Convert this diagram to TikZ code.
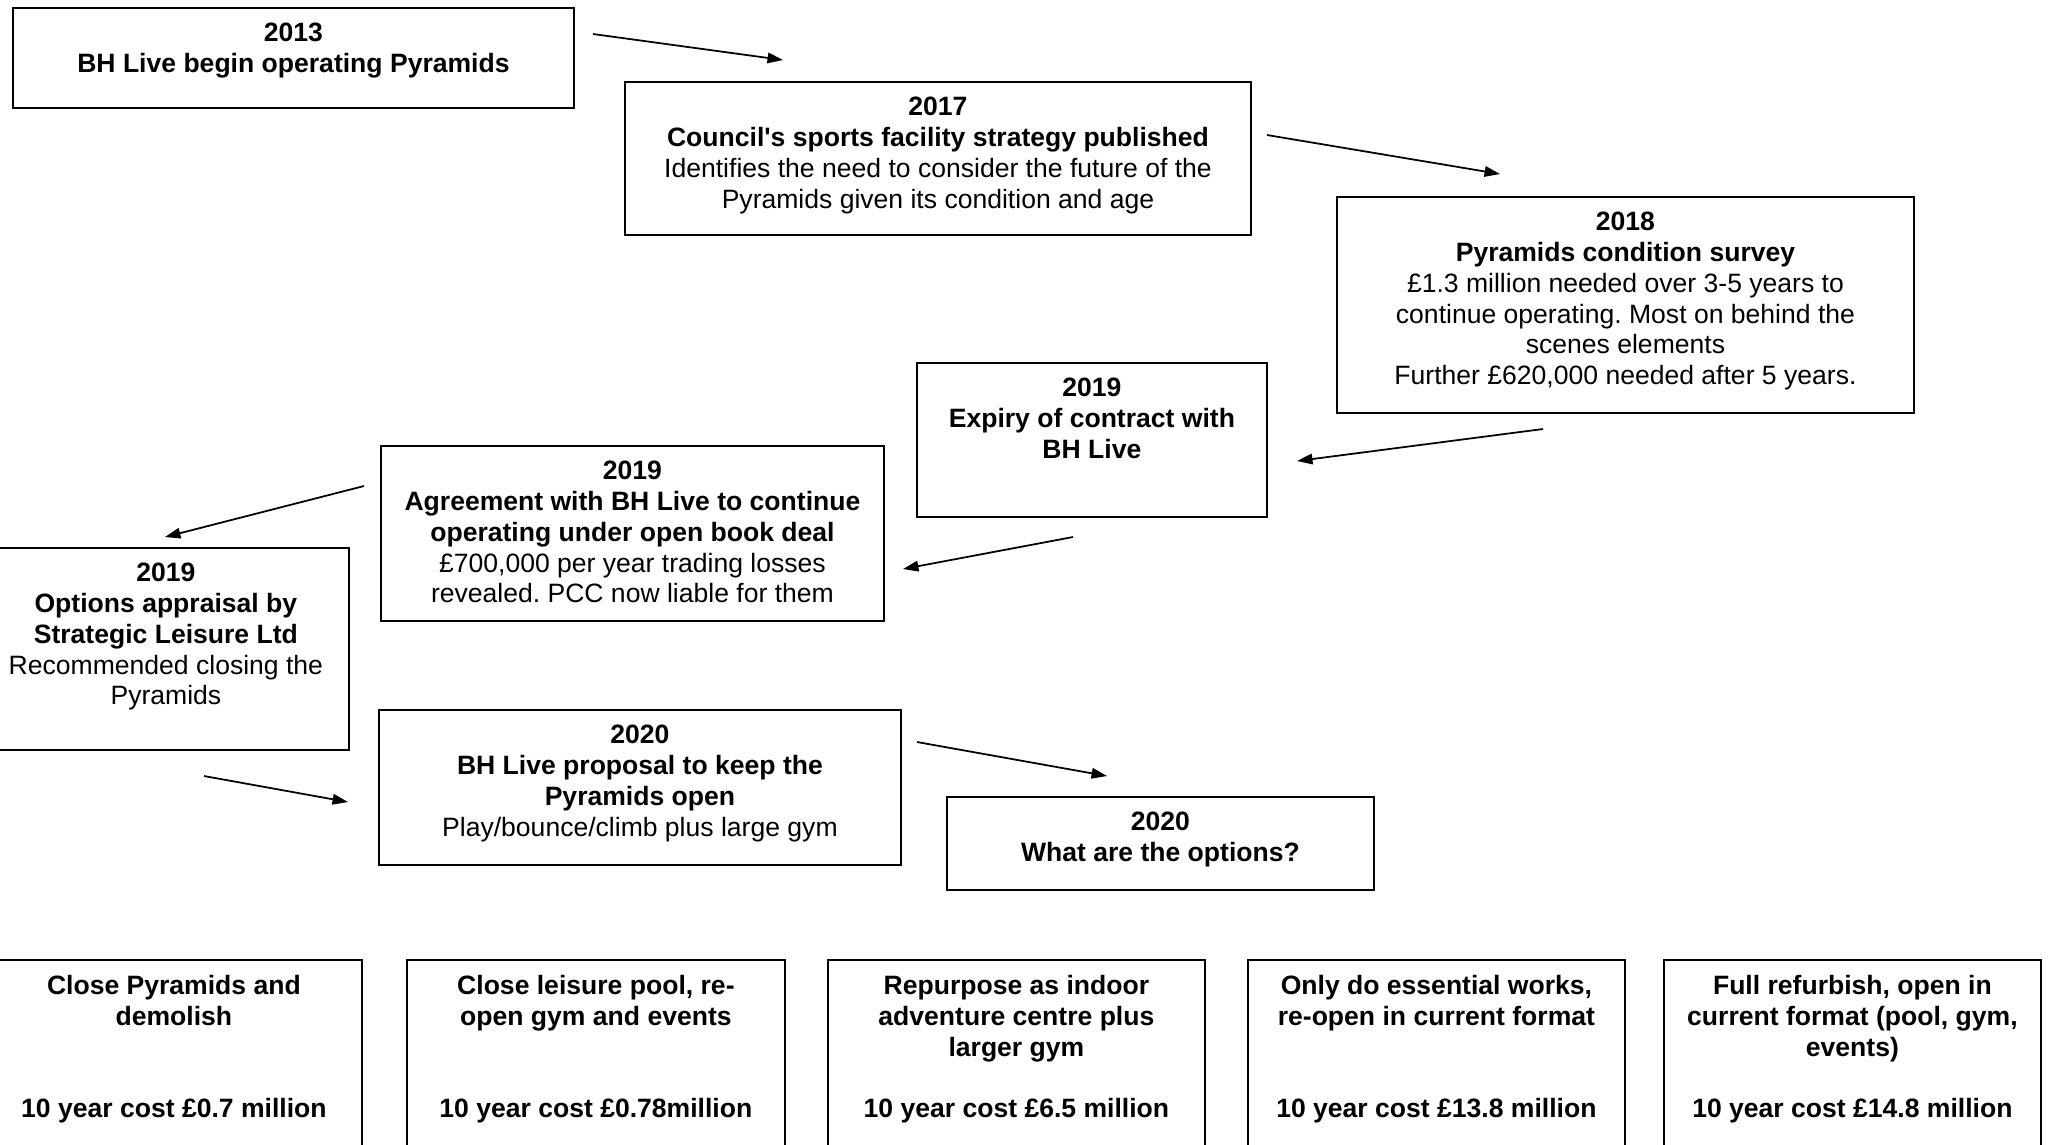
\documentclass[tikz,border=0pt]{standalone}
\usepackage{fontspec}
\setmainfont{Liberation Sans}
\usetikzlibrary{arrows.meta,positioning}
\frenchspacing

\tikzset{
    frame/.style={draw, line width=0.45pt, anchor=north west, inner sep=0pt},
    txt/.style={align=center, inner sep=0pt, font=\fontsize{7.55}{8.75}\selectfont},
    link/.style={-{Triangle[length=4.4pt,width=3pt]}, line width=0.5pt},
}

\begin{document}
\begin{tikzpicture}[x=0.01cm, y=-0.01cm]
    \useasboundingbox (0,0) rectangle (2052,1144);

    % Timeline boxes
    \node[frame, minimum width=5.61cm, minimum height=1.00cm] (b2013) at (12,7) {};
    \node[txt, below=0.155cm of b2013.north] (t2013) {\textbf{2013}\\\textbf{BH Live begin operating Pyramids}};

    \node[frame, minimum width=6.26cm, minimum height=1.53cm] (b2017) at (624,81) {};
    \node[txt, below=0.155cm of b2017.north] (t2017) {\textbf{2017}\\\textbf{Council\textquotesingle s sports facility strategy published}\\Identifies the need to consider the future of the\\Pyramids given its condition and age};

    \node[frame, minimum width=5.77cm, minimum height=2.16cm] (b2018) at (1336,196) {};
    \node[txt, below=0.155cm of b2018.north] (t2018) {\textbf{2018}\\\textbf{Pyramids condition survey}\\£1.3 million needed over 3-5 years to\\continue operating. Most on behind the\\scenes elements\\Further £620,000 needed after 5 years.};

    \node[frame, minimum width=3.50cm, minimum height=1.54cm] (b2019e) at (916,362) {};
    \node[txt, below=0.155cm of b2019e.north] (t2019e) {\textbf{2019}\\\textbf{Expiry of contract with}\\\textbf{BH Live}};

    \node[frame, minimum width=5.03cm, minimum height=1.75cm] (b2019a) at (380,445) {};
    \node[txt, below=0.155cm of b2019a.north] (t2019a) {\textbf{2019}\\\textbf{Agreement with BH Live to continue}\\\textbf{operating under open book deal}\\£700,000 per year trading losses\\revealed. PCC now liable for them};

    \node[frame, minimum width=3.66cm, minimum height=2.02cm] (b2019o) at (-18,547) {};
    \node[txt, below=0.155cm of b2019o.north] (t2019o) {\textbf{2019}\\\textbf{Options appraisal by}\\\textbf{Strategic Leisure Ltd}\\Recommended closing the\\Pyramids};

    \node[frame, minimum width=5.22cm, minimum height=1.55cm] (b2020p) at (378,709) {};
    \node[txt, below=0.155cm of b2020p.north] (t2020p) {\textbf{2020}\\\textbf{BH Live proposal to keep the}\\\textbf{Pyramids open}\\Play/bounce/climb plus large gym};

    \node[frame, minimum width=4.27cm, minimum height=0.93cm] (b2020q) at (946,796) {};
    \node[txt, below=0.155cm of b2020q.north] (t2020q) {\textbf{2020}\\\textbf{What are the options?}};

    % Option boxes (cut off at the bottom)
    \node[frame, minimum width=3.76cm, minimum height=2.41cm] (opt1) at (-15,959) {};
    \node[txt, font=\bfseries\fontsize{7.55}{8.75}\selectfont, below=0.155cm of opt1.north] (topt1) {Close Pyramids and\\demolish\\[17.5pt]10 year cost £0.7 million};

    \node[frame, minimum width=3.78cm, minimum height=2.41cm] (opt2) at (406,959) {};
    \node[txt, font=\bfseries\fontsize{7.55}{8.75}\selectfont, below=0.155cm of opt2.north] (topt2) {Close leisure pool, re-\\open gym and events\\[17.5pt]10 year cost £0.78million};

    \node[frame, minimum width=3.77cm, minimum height=2.41cm] (opt3) at (827,959) {};
    \node[txt, font=\bfseries\fontsize{7.55}{8.75}\selectfont, below=0.155cm of opt3.north] (topt3) {Repurpose as indoor\\adventure centre plus\\larger gym\\[8.75pt]10 year cost £6.5 million};

    \node[frame, minimum width=3.77cm, minimum height=2.41cm] (opt4) at (1247,959) {};
    \node[txt, font=\bfseries\fontsize{7.55}{8.75}\selectfont, below=0.155cm of opt4.north] (topt4) {Only do essential works,\\re-open in current format\\[17.5pt]10 year cost £13.8 million};

    \node[frame, minimum width=3.77cm, minimum height=2.41cm] (opt5) at (1663,959) {};
    \node[txt, font=\bfseries\fontsize{7.55}{8.75}\selectfont, below=0.155cm of opt5.north] (topt5) {Full refurbish, open in\\current format (pool, gym,\\events)\\[8.75pt]10 year cost £14.8 million};

    % Arrow ends
    \coordinate (a1s) at (593,34);   \coordinate (a1e) at (783,60);
    \coordinate (a2s) at (1267,135); \coordinate (a2e) at (1500,174);
    \coordinate (a3s) at (1543,429); \coordinate (a3e) at (1297,461);
    \coordinate (a4s) at (1073,537); \coordinate (a4e) at (903,569);
    \coordinate (a5s) at (364,486);  \coordinate (a5e) at (165,537);
    \coordinate (a6s) at (204,776);  \coordinate (a6e) at (348,802);
    \coordinate (a7s) at (917,742);  \coordinate (a7e) at (1107,776);

    % Arrows
    \draw[link] (a1s) -- (a1e);
    \draw[link] (a2s) -- (a2e);
    \draw[link] (a3s) -- (a3e);
    \draw[link] (a4s) -- (a4e);
    \draw[link] (a5s) -- (a5e);
    \draw[link] (a6s) -- (a6e);
    \draw[link] (a7s) -- (a7e);

\end{tikzpicture}
\end{document}
